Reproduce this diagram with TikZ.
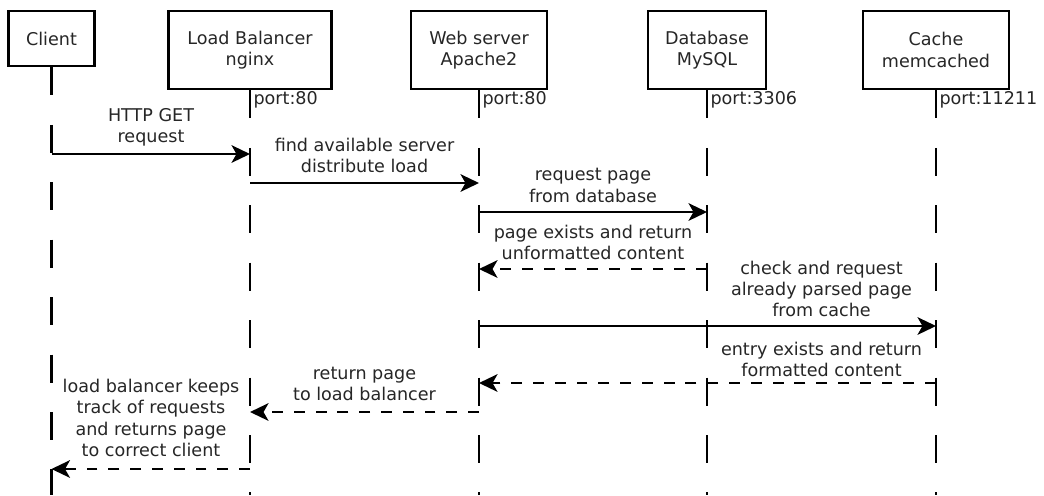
\documentclass[tikz,border=0pt]{standalone}
\usepackage{fontspec}
\setmainfont{DejaVu Sans}
\usetikzlibrary{arrows.meta}
\begin{document}
\begin{tikzpicture}[x=0.02cm,y=-0.02cm,
  every node/.style={font=\fontsize{10}{12.2}\selectfont, text=black!85},
  actor/.style={draw=black, line width=1.5pt, align=center, inner sep=0pt},
  life/.style={line width=1.4pt, dash pattern=on 15.9pt off 16.8pt},
  msg/.style={line width=1.4pt, -{Stealth[length=10.5pt,width=10pt,inset=2.8pt]}},
  reply/.style={msg, dash pattern=on 6.2pt off 6.2pt},
  lbl/.style={align=center, inner sep=0pt},
  port/.style={anchor=west, inner sep=0pt}]
\useasboundingbox (0,0) rectangle (1044,495);

% actors
\node[actor, minimum width=1.72cm, minimum height=1.10cm] (client) at (51.5,38.5) {Client};
\node[actor, minimum width=3.26cm, minimum height=1.56cm] (lb) at (250,50) {Load Balancer\\nginx};
\node[actor, minimum width=2.72cm, minimum height=1.56cm] (web) at (479,50) {Web server\\Apache2};
\node[actor, minimum width=2.36cm, minimum height=1.56cm] (db) at (707,50) {Database\\MySQL};
\node[actor, minimum width=2.92cm, minimum height=1.56cm] (cache) at (936,50) {Cache\\memcached};

% lifelines
\coordinate (bot) at (0,495);
\draw[life] (client.south) -- (client |- bot);
\draw[life] (lb.south) -- (lb |- bot);
\draw[life] (web.south) -- (web |- bot);
\draw[life] (db.south) -- (db |- bot);
\draw[life] (cache.south) -- (cache |- bot);

% ports
\coordinate (py) at (0,100);
\node[port] (p1) at ([xshift=1.8pt]lb |- py) {port:80};
\node[port] (p2) at ([xshift=1.8pt]web |- py) {port:80};
\node[port] (p3) at ([xshift=1.8pt]db |- py) {port:3306};
\node[port] (p4) at ([xshift=1.8pt]cache |- py) {port:11211};

% message levels
\coordinate (y1) at (0,154);
\coordinate (y2) at (0,183);
\coordinate (y3) at (0,212);
\coordinate (y4) at (0,269);
\coordinate (y5) at (0,326);
\coordinate (y6) at (0,383);
\coordinate (y7) at (0,412);
\coordinate (y8) at (0,469);

% messages
\draw[msg] (client |- y1) -- (lb |- y1);
\node[lbl] (l1) at (151,127.5) {HTTP GET\\request};

\draw[msg] (lb |- y2) -- (web |- y2);
\node[lbl] (l2) at (364.5,155.5) {find available server\\distribute load};

\draw[msg] (web |- y3) -- (db |- y3);
\node[lbl] (l3) at (593,185.5) {request page\\from database};

\draw[reply] (db |- y4) -- (web |- y4);
\node[lbl] (l4) at (593,242.5) {page exists and return\\unformatted content};

\draw[msg] (web |- y5) -- (cache |- y5);
\node[lbl] (l5) at (821.5,289) {check and request\\already parsed page\\from cache};

\draw[reply] (cache |- y6) -- (web |- y6);
\node[lbl] (l6) at (821.5,359.5) {entry exists and return\\formatted content};

\draw[reply] (web |- y7) -- (lb |- y7);
\node[lbl] (l7) at (364.5,384) {return page\\to load balancer};

\draw[reply] (lb |- y8) -- (client |- y8);
\node[lbl] (l8) at (151,418) {load balancer keeps\\track of requests\\and returns page\\to correct client};
\end{tikzpicture}
\end{document}
